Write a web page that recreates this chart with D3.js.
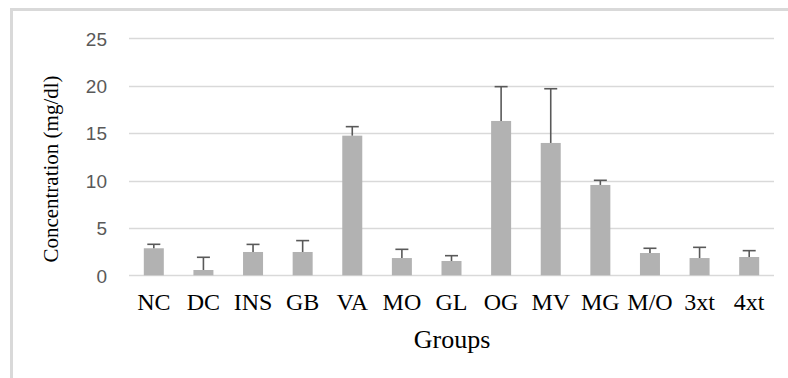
<!DOCTYPE html>
<html><head><meta charset="utf-8">
<script src="https://cdn.jsdelivr.net/npm/d3@7/dist/d3.min.js"></script>
<style>body{margin:0;background:#fff}svg{display:block}</style>
</head><body>
<script>
const categories = ["NC","DC","INS","GB","VA","MO","GL","OG","MV","MG","M/O","3xt","4xt"];
const values = [2.85, 0.56, 2.46, 2.46, 14.73, 1.82, 1.51, 16.28, 13.96, 9.53, 2.35, 1.82, 1.93];
const errors = [0.42, 1.34, 0.80, 1.20, 0.95, 0.92, 0.56, 3.62, 5.72, 0.49, 0.50, 1.13, 0.67];
const yTicks = [0, 5, 10, 15, 20, 25];

const W = 788, H = 378;
const svg = d3.select("body").append("svg").attr("width", W).attr("height", H);

// outer border (chart area frame)
svg.append("rect").attr("x", 11.5).attr("y", 9.5).attr("width", 900).attr("height", 500)
  .attr("fill", "none").attr("stroke", "#d9d9d9").attr("stroke-width", 3);

const x = d3.scaleBand().domain(categories).range([129, 774]).paddingInner(0.6).paddingOuter(0.3);
const y = d3.scaleLinear().domain([0, 25]).range([275.3, 38.3]);

// gridlines
svg.append("g").selectAll("line").data(yTicks).join("line")
  .attr("x1", 129).attr("x2", 774)
  .attr("y1", d => Math.round(y(d)) + 0.5).attr("y2", d => Math.round(y(d)) + 0.5)
  .attr("stroke", "#d9d9d9").attr("stroke-width", 1.3);

// y axis labels
const yAxis = d3.axisLeft(y).tickValues(yTicks).tickSize(0).tickPadding(0);
const gy = svg.append("g").attr("transform", "translate(107,0)").call(yAxis);
gy.select(".domain").remove();
gy.selectAll("text").attr("font-family", "'Liberation Sans', Arial, sans-serif")
  .attr("font-size", 19).attr("fill", "#595959").attr("dy", "0.36em");

// bars
const bw = 20;
svg.append("g").selectAll("rect").data(categories).join("rect")
  .attr("x", d => x(d) + x.bandwidth() / 2 - bw / 2)
  .attr("width", bw)
  .attr("y", (d, i) => y(values[i]))
  .attr("height", (d, i) => y(0) - y(values[i]))
  .attr("fill", "#b2b2b2");

// error bars (upper only)
const eg = svg.append("g").attr("stroke", "#595959").attr("stroke-width", 1.6);
categories.forEach((c, i) => {
  const cx = x(c) + x.bandwidth() / 2;
  const top = y(values[i] + errors[i]);
  eg.append("line").attr("x1", cx).attr("x2", cx).attr("y1", y(values[i])).attr("y2", top);
  eg.append("line").attr("x1", cx - 6.5).attr("x2", cx + 6.5).attr("y1", top).attr("y2", top);
});

// x axis labels
const xAxis = d3.axisBottom(x).tickSize(0).tickPadding(0);
const gx = svg.append("g").attr("transform", "translate(0,310)").call(xAxis);
gx.select(".domain").remove();
gx.selectAll("text").attr("font-family", "'Liberation Serif', 'Times New Roman', serif")
  .attr("font-size", 24).attr("fill", "#000").attr("dy", 0);

// axis titles
svg.append("text").attr("x", 452).attr("y", 348).attr("text-anchor", "middle")
  .attr("font-family", "'Liberation Serif', 'Times New Roman', serif")
  .attr("font-size", 26).attr("fill", "#000").text("Groups");

svg.append("text").attr("transform", "translate(58,169) rotate(-90)").attr("text-anchor", "middle")
  .attr("font-family", "'Liberation Serif', 'Times New Roman', serif")
  .attr("font-size", 21).attr("fill", "#000").text("Concentration (mg/dl)");
</script>
</body></html>
